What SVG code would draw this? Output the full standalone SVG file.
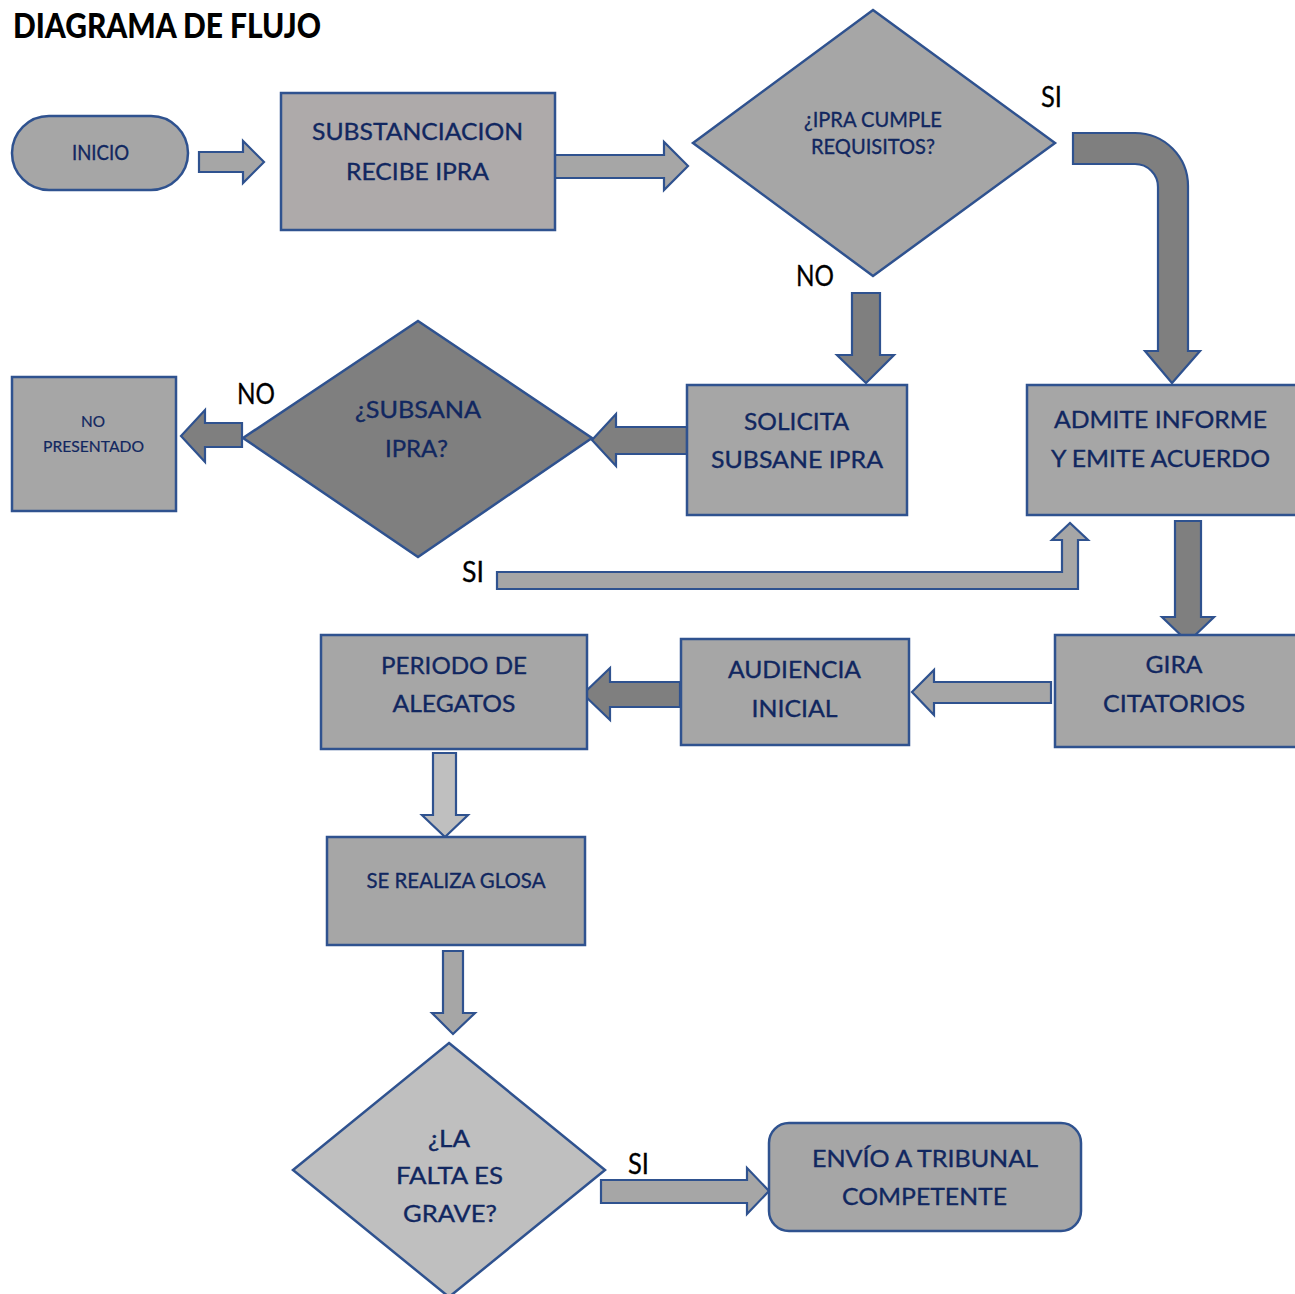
<svg xmlns="http://www.w3.org/2000/svg" width="1295" height="1294" viewBox="0 0 1295 1294">
  <style>
    .box { stroke: #2f528f; stroke-width: 2.5; stroke-linejoin: miter; }
    .conn path { stroke: #2f528f; stroke-width: 2.2; stroke-linejoin: miter; }
    .g1 { fill: #a6a6a6; }
    .g2 { fill: #aeaaaa; }
    .g3 { fill: #7f7f7f; }
    .g4 { fill: #bfbfbf; }
    .t { font-family: Lato, "Noto Sans", "Liberation Sans", sans-serif; fill: #112760; stroke: #112760; stroke-width: 0.35; text-anchor: middle; font-size: 23.5px; }
    .ts { font-size: 22px; }
    .tx { font-size: 15px; stroke-width: 0.2; }
    .lbl { font-family: Lato, "Noto Sans", "Liberation Sans", sans-serif; fill: #000000; stroke: #000000; stroke-width: 0.3; text-anchor: middle; font-size: 28px; }
    .title { font-family: Lato, "Noto Sans", "Liberation Sans", sans-serif; font-weight: 900; font-size: 35px; fill: #000000; }
  </style>

  <text class="title" x="13" y="38" textLength="308" lengthAdjust="spacingAndGlyphs">DIAGRAMA DE FLUJO</text>

  <!-- connectors -->
  <g id="connectors" class="conn">
    <!-- inicio -> substanciacion -->
    <path class="g1" d="M199,152 H243 V141 L264,162 L243,183 V172 H199 Z"/>
    <!-- substanciacion -> decision 1 -->
    <path class="g1" d="M553,155 H664 V142 L688,166 L664,190 V178 H553 Z"/>
    <!-- SI: curved arrow to admite -->
    <path class="g3" d="M1073,133 H1135 A53,53 0 0 1 1188,186 V351 H1200 L1172,383 L1145,351 H1158 V187 A23,23 0 0 0 1135,164 H1073 Z"/>
    <!-- NO: down to solicita -->
    <path class="g3" d="M852,293 H880 V355 H894 L866,383 L837,355 H852 Z"/>
    <!-- solicita -> decision 2 -->
    <path class="g3" d="M687,427 H616 V414 L592,440 L616,466 V454 H687 Z"/>
    <!-- NO: decision 2 -> no presentado -->
    <path class="g3" d="M242,423 H205 V410 L181,436 L205,462 V447 H242 Z"/>
    <!-- SI: decision 2 -> admite (bent up) -->
    <path class="g1" d="M497,572 H1062 V540 H1052 L1070,523 L1088,540 H1078 V589 H497 Z"/>
    <!-- admite -> gira -->
    <path class="g3" d="M1175,521 H1201 V617 H1214 L1188,642 L1162,617 H1175 Z"/>
    <!-- gira -> audiencia -->
    <path class="g1" d="M1051,682 H934 V670 L912,692 L934,715 V703 H1051 Z"/>
    <!-- audiencia -> periodo -->
    <path class="g3" d="M680,682 H610 V668 L583,694 L610,720 V707 H680 Z"/>
    <!-- periodo -> glosa -->
    <path class="g4" d="M433,753 H456 V815 H468 L445,837 L422,815 H433 Z"/>
    <!-- glosa -> decision 3 -->
    <path class="g1" d="M443,951 H463 V1013 H475 L453,1034 L432,1013 H443 Z"/>
    <!-- SI: decision 3 -> envio -->
    <path class="g1" d="M601,1180 H747 V1168 L769,1191 L747,1214 V1203 H601 Z"/>
  </g>

  <!-- edge labels -->
  <g id="labels">
    <text class="lbl" x="1051.5" y="107" textLength="21" lengthAdjust="spacingAndGlyphs">SI</text>
    <text class="lbl" x="815" y="286" textLength="38" lengthAdjust="spacingAndGlyphs">NO</text>
    <text class="lbl" x="256" y="404" textLength="38" lengthAdjust="spacingAndGlyphs">NO</text>
    <text class="lbl" x="473" y="582" textLength="22" lengthAdjust="spacingAndGlyphs">SI</text>
    <text class="lbl" x="638.5" y="1174" textLength="21" lengthAdjust="spacingAndGlyphs">SI</text>
  </g>

  <g id="inicio">
    <rect class="box g1" x="12" y="116" width="176" height="74" rx="37" ry="37"/>
    <text class="t ts" x="100.5" y="160" textLength="57" lengthAdjust="spacingAndGlyphs">INICIO</text>
  </g>

  <g id="substanciacion">
    <rect class="box g2" x="281" y="93" width="274" height="137"/>
    <text class="t" x="417.5" y="140" textLength="211" lengthAdjust="spacingAndGlyphs">SUBSTANCIACION</text>
    <text class="t" x="417.5" y="180" textLength="143" lengthAdjust="spacingAndGlyphs">RECIBE IPRA</text>
  </g>

  <g id="cumple-requisitos">
    <polygon class="box g1" points="873,10 1055,143 873,276 693,143"/>
    <text class="t ts" x="873" y="127" textLength="138" lengthAdjust="spacingAndGlyphs">¿IPRA CUMPLE</text>
    <text class="t ts" x="873" y="154" textLength="124" lengthAdjust="spacingAndGlyphs">REQUISITOS?</text>
  </g>

  <g id="solicita">
    <rect class="box g1" x="687" y="385" width="220" height="130"/>
    <text class="t" x="796.5" y="430" textLength="105" lengthAdjust="spacingAndGlyphs">SOLICITA</text>
    <text class="t" x="797" y="468" textLength="172" lengthAdjust="spacingAndGlyphs">SUBSANE IPRA</text>
  </g>

  <g id="admite">
    <rect class="box g1" x="1027" y="385" width="270" height="130"/>
    <text class="t" x="1160.5" y="428" textLength="213" lengthAdjust="spacingAndGlyphs">ADMITE INFORME</text>
    <text class="t" x="1160.5" y="467" textLength="219" lengthAdjust="spacingAndGlyphs">Y EMITE ACUERDO</text>
  </g>

  <g id="subsana">
    <polygon class="box g3" points="418,321 592,438 418,557 243,438"/>
    <text class="t" x="418" y="418" textLength="126" lengthAdjust="spacingAndGlyphs">¿SUBSANA</text>
    <text class="t" x="416.5" y="457" textLength="63" lengthAdjust="spacingAndGlyphs">IPRA?</text>
  </g>

  <g id="no-presentado">
    <rect class="box g1" x="12" y="377" width="164" height="134"/>
    <text class="t tx" x="93" y="427" textLength="24" lengthAdjust="spacingAndGlyphs">NO</text>
    <text class="t tx" x="93.5" y="452" textLength="101" lengthAdjust="spacingAndGlyphs">PRESENTADO</text>
  </g>

  <g id="gira">
    <rect class="box g1" x="1055" y="635" width="242" height="112"/>
    <text class="t" x="1174" y="673" textLength="57" lengthAdjust="spacingAndGlyphs">GIRA</text>
    <text class="t" x="1174" y="712" textLength="142" lengthAdjust="spacingAndGlyphs">CITATORIOS</text>
  </g>

  <g id="audiencia">
    <rect class="box g1" x="681" y="639" width="228" height="106"/>
    <text class="t" x="794.5" y="678" textLength="133" lengthAdjust="spacingAndGlyphs">AUDIENCIA</text>
    <text class="t" x="794.5" y="717" textLength="86" lengthAdjust="spacingAndGlyphs">INICIAL</text>
  </g>

  <g id="periodo">
    <rect class="box g1" x="321" y="635" width="266" height="114"/>
    <text class="t" x="454" y="674" textLength="146" lengthAdjust="spacingAndGlyphs">PERIODO DE</text>
    <text class="t" x="454" y="712" textLength="123" lengthAdjust="spacingAndGlyphs">ALEGATOS</text>
  </g>

  <g id="glosa">
    <rect class="box g1" x="327" y="837" width="258" height="108"/>
    <text class="t ts" x="456" y="888" textLength="179" lengthAdjust="spacingAndGlyphs">SE REALIZA GLOSA</text>
  </g>

  <g id="falta-grave">
    <polygon class="box g4" points="449,1043 605,1170 449,1297 293,1170"/>
    <text class="t" x="449" y="1147" textLength="42" lengthAdjust="spacingAndGlyphs">¿LA</text>
    <text class="t" x="449.5" y="1184" textLength="107" lengthAdjust="spacingAndGlyphs">FALTA ES</text>
    <text class="t" x="450" y="1222" textLength="94" lengthAdjust="spacingAndGlyphs">GRAVE?</text>
  </g>

  <g id="envio">
    <rect class="box g1" x="769" y="1123" width="312" height="108" rx="20" ry="20"/>
    <text class="t" x="925" y="1167" textLength="226" lengthAdjust="spacingAndGlyphs">ENVÍO A TRIBUNAL</text>
    <text class="t" x="924.5" y="1205" textLength="165" lengthAdjust="spacingAndGlyphs">COMPETENTE</text>
  </g>
</svg>
